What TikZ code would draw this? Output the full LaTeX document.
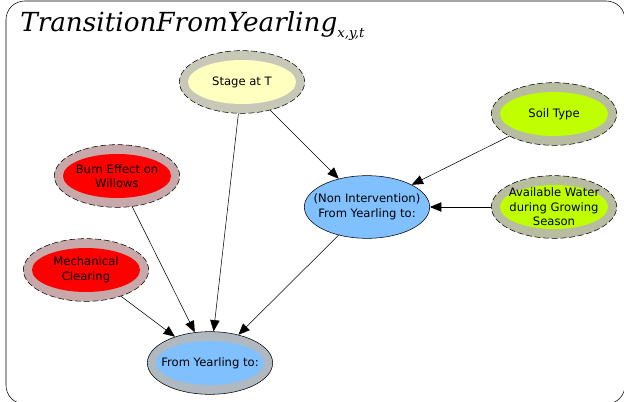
\documentclass[tikz,border=0pt]{standalone}
\usepackage{fontspec}
\setmainfont{DejaVu Sans}
\newfontfamily\titlefont{DejaVu Serif}
\usepackage{xcolor}
\usepackage{tikz}
\usetikzlibrary{shapes,arrows.meta}

\definecolor{stageyellow}{HTML}{FFFFC0}
\definecolor{soilgreen}{HTML}{C0FF00}
\definecolor{burnred}{HTML}{FF0000}
\definecolor{decblue}{HTML}{80C0FF}
\definecolor{ringyellow}{HTML}{C8C8B8}
\definecolor{ringgreen}{HTML}{B8BCA0}
\definecolor{ringred}{HTML}{C8A8A8}
\definecolor{ringblue}{HTML}{B0B8C0}

\tikzset{
  var/.style 2 args={ellipse, draw, inner sep=-8pt, align=center,
    minimum width=94pt, minimum height=47pt, fill=#2,
    font=\fontsize{8.7}{10.9}\selectfont,
    path picture={\fill[#1] (path picture bounding box.center) ellipse (40.5pt and 16.5pt);}},
  chance/.style 2 args={var={#1}{#2}, dash pattern=on 4.5pt off 2pt},
  plain/.style={ellipse, draw, inner sep=-8pt, align=center, fill=decblue,
    minimum width=94pt, minimum height=47pt,
    font=\fontsize{8.7}{10.9}\selectfont},
}

\begin{document}
\begin{tikzpicture}[x=0.75pt,y=-0.75pt]
	\useasboundingbox (0,0) rectangle (624,402);
	\draw[rounded corners=14pt] (6,1) rectangle (625,404);
	\node[anchor=base west,inner sep=0pt,font=\titlefont\itshape\fontsize{19.7}{23}\selectfont] (title) at (20,32)
		{TransitionFromYearling\raisebox{-4.5pt}{\fontsize{10}{12}\selectfont x,y,t}};
	%
	\node[chance={stageyellow}{ringyellow}] (stage) at (242,82) {Stage at T};
	\node[chance={soilgreen}{ringgreen}] (soil) at (554,114) {Soil Type};
	\node[chance={soilgreen}{ringgreen}] (water) at (554,207) {Available Water\\during Growing\\Season};
	\node[chance={burnred}{ringred}] (burn) at (117,176) {Burn Effect on\\Willows};
	\node[chance={burnred}{ringred}] (mech) at (86,270) {Mechanical\\Clearing};
	\node[plain] (nonint) at (367,207) {(Non Intervention)\\From Yearling to:};
	\node[var={decblue}{ringblue}] (from) at (210,363) {From Yearling to:};
	%
	\path[->,>={Triangle[length=8.5pt,width=7pt]}]
	(stage) edge (from)
	(stage) edge (nonint)
	(soil) edge (nonint)
	(water) edge (nonint)
	(burn) edge (from)
	(mech) edge (from)
	(nonint) edge (from);
\end{tikzpicture}
\end{document}
